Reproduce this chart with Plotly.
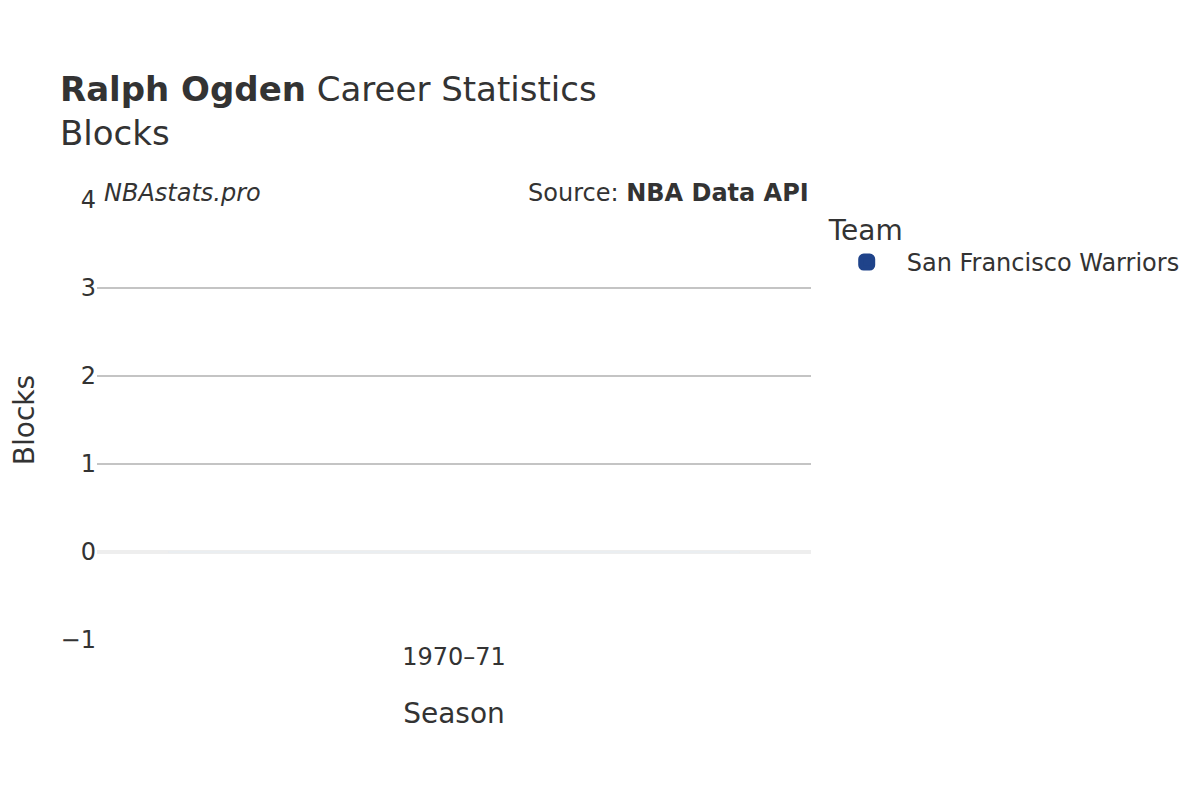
import plotly.graph_objects as go

seasons = ["1970–71"]
blocks = [0]
team = "San Francisco Warriors"
team_color = "#1f438a"

fig = go.Figure()
# the bar itself (0 blocks, so nothing shows above the zero line)
fig.add_trace(go.Bar(
    x=seasons,
    y=blocks,
    name=team,
    legendgroup=team,
    showlegend=False,
    marker=dict(color=team_color, cornerradius=4),
))
# legend entry with a chunkier swatch
fig.add_trace(go.Bar(
    x=[None],
    y=[None],
    name=team,
    legendgroup=team,
    marker=dict(color=team_color, cornerradius=4,
                line=dict(color=team_color, width=5)),
    hoverinfo="skip",
))

fig.update_layout(
    width=1200,
    height=800,
    font=dict(family="DejaVu Sans", color="#333333", size=24),
    plot_bgcolor="white",
    paper_bgcolor="white",
    title=dict(
        text="<b>Ralph Ogden</b> Career Statistics<br>Blocks",
        x=0.0433, xanchor="left",
        y=0.884, yanchor="top",
        font=dict(size=34, color="#333333"),
    ),
    margin=dict(l=89, r=397, t=192, b=168, autoexpand=False),
    legend=dict(
        title=dict(text="Team", font=dict(size=28)),
        x=1.022, xanchor="left", y=0.992, yanchor="top",
        font=dict(size=24),
        itemwidth=70,
        itemsizing="trace",
    ),
    showlegend=True,
    xaxis=dict(
        title=dict(text="Season", font=dict(size=28), standoff=33),
        showgrid=False,
        tickfont=dict(size=24),
    ),
    yaxis=dict(
        title=dict(text="Blocks", font=dict(size=28), standoff=45),
        range=[-1, 4],
        dtick=1,
        gridcolor="#c4c4c4",
        gridwidth=2,
        zeroline=True,
        zerolinecolor="#eeeeee",
        zerolinewidth=4,
        tickfont=dict(size=24),
    ),
    annotations=[
        dict(text="<i>NBAstats.pro</i>", x=0, y=1.0, xref="paper", yref="paper",
             xanchor="left", yanchor="middle", showarrow=False,
             font=dict(size=24), xshift=5, yshift=7),
        dict(text="Source: <b>NBA Data API</b>", x=1, y=1.0, xref="paper", yref="paper",
             xanchor="right", yanchor="middle", showarrow=False,
             font=dict(size=24), xshift=0, yshift=7),
    ],
)

fig.write_html("out.html")
